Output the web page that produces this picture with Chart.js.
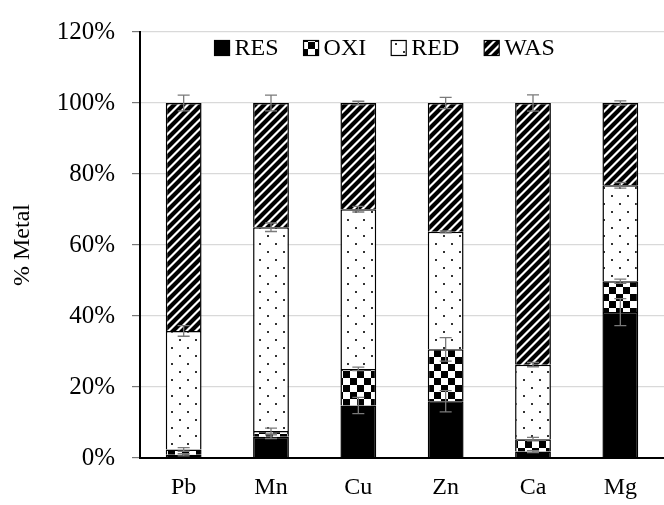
<!DOCTYPE html>
<html>
<head>
<meta charset="utf-8">
<script src="https://cdn.jsdelivr.net/npm/chart.js@4/dist/chart.umd.min.js"></script>
<style>
html,body{margin:0;padding:0;background:#fff;overflow:hidden;}
#wrap{width:664px;height:505px;position:relative;}
</style>
</head>
<body>
<div id="wrap"><canvas id="c" width="664" height="505"></canvas></div>
<script>
const categories = ['Pb', 'Mn', 'Cu', 'Zn', 'Ca', 'Mg'];
const seriesNames = ['RES', 'OXI', 'RED', 'WAS'];
const res = [0.9, 6.0, 14.8, 16.0, 1.8, 41.1];
const oxi = [1.5, 1.6, 10.3, 14.6, 3.5, 8.7];
const red = [33.4, 57.4, 45.0, 33.1, 21.0, 27.0];
const was = [64.2, 35.0, 29.9, 36.3, 73.7, 23.2];
const resErr = [0.3, 0.5, 2.3, 3.0, 0.3, 3.8];
const oxiErr = [0.5, 0.8, 0.5, 3.3, 0.5, 0.6];
const redErr = [1.5, 1.2, 0.8, 0.3, 0.6, 0.8];
const wasErr = [2.2, 2.2, 0.5, 1.6, 2.3, 0.6];
const yTicks = [0, 20, 40, 60, 80, 100, 120];

const FONT = "'Liberation Serif', 'Times New Roman', serif";

function makeTile(w, h, draw) {
  const cv = document.createElement('canvas');
  cv.width = w; cv.height = h;
  const g = cv.getContext('2d');
  g.fillStyle = '#fff'; g.fillRect(0, 0, w, h);
  draw(g);
  return document.getElementById('c').getContext('2d').createPattern(cv, 'repeat');
}
const patRES = '#000000';
const patOXI = makeTile(14, 14, g => {
  g.fillStyle = '#000';
  g.fillRect(0, 0, 7, 7);
  g.fillRect(7, 7, 7, 7);
});
const patRED = makeTile(16, 16, g => {
  g.fillStyle = '#333';
  g.fillRect(3, 3, 2, 2);
  g.fillRect(11, 11, 2, 2);
});
const patWAS = makeTile(9, 9, g => {
  g.strokeStyle = '#000';
  g.lineWidth = 4.2;
  g.beginPath();
  g.moveTo(-2, 11); g.lineTo(11, -2);
  g.moveTo(-11, 11); g.lineTo(2, -2);
  g.moveTo(7, 11); g.lineTo(20, -2);
  g.stroke();
});
const fills = [patRES, patOXI, patRED, patWAS];
const values = [res, oxi, red, was];
const errs = [resErr, oxiErr, redErr, wasErr];

const errorBars = {
  id: 'errorBars',
  afterDatasetsDraw(chart) {
    const ctx = chart.ctx;
    const y = chart.scales.y;
    ctx.save();
    ctx.strokeStyle = '#7a7a7a';
    ctx.lineWidth = 1.3;
    chart.data.datasets.forEach((ds, di) => {
      const meta = chart.getDatasetMeta(di);
      meta.data.forEach((bar, i) => {
        let cum = 0;
        for (let k = 0; k <= di; k++) cum += values[k][i];
        const e = errs[di][i];
        const yt = y.getPixelForValue(cum + e);
        const yb = y.getPixelForValue(cum - e);
        const x = bar.x;
        ctx.beginPath();
        ctx.moveTo(x, yt); ctx.lineTo(x, yb);
        ctx.moveTo(x - 6, yt); ctx.lineTo(x + 6, yt);
        ctx.moveTo(x - 6, yb); ctx.lineTo(x + 6, yb);
        ctx.stroke();
      });
    });
    ctx.restore();
  }
};

const customLegend = {
  id: 'customLegend',
  afterDraw(chart) {
    const ctx = chart.ctx;
    const a = chart.chartArea;
    ctx.save();
    ctx.font = '24px ' + FONT;
    ctx.textBaseline = 'middle';
    ctx.textAlign = 'left';
    const box = 15, gapText = 5, gapItem = 25;
    const widths = seriesNames.map(n => box + gapText + ctx.measureText(n).width);
    const total = widths.reduce((s, w) => s + w, 0) + gapItem * (seriesNames.length - 1);
    const cx = a.left + (a.right - a.left) * 0.467;
    const cy = 48;
    let x = cx - total / 2;
    seriesNames.forEach((n, i) => {
      ctx.fillStyle = fills[i];
      ctx.fillRect(x, cy - box / 2, box, box);
      ctx.strokeStyle = '#000';
      ctx.lineWidth = 1.2;
      ctx.strokeRect(x, cy - box / 2, box, box);
      ctx.fillStyle = '#000';
      ctx.fillText(n, x + box + gapText, cy + 1);
      x += widths[i] + gapItem;
    });
    ctx.restore();
  }
};

new Chart(document.getElementById('c'), {
  type: 'bar',
  data: {
    labels: categories,
    datasets: seriesNames.map((n, i) => ({
      label: n,
      data: values[i],
      backgroundColor: fills[i],
      borderColor: '#000',
      borderWidth: 1.5,
      barPercentage: 0.41,
      categoryPercentage: 1.0
    }))
  },
  options: {
    responsive: false,
    animation: false,
    layout: { padding: { top: 22, right: 0, left: 0, bottom: 0 } },
    plugins: {
      legend: { display: false },
      tooltip: { enabled: false }
    },
    scales: {
      x: {
        stacked: true,
        grid: { display: false, drawTicks: false },
        border: { display: true, color: '#000', width: 2 },
        ticks: { color: '#000', font: { family: FONT, size: 24 }, padding: 15 },
        afterFit: s => { s.height = 47; }
      },
      y: {
        stacked: true,
        min: 0,
        max: 120,
        afterBuildTicks: s => { s.ticks = yTicks.map(v => ({ value: v })); },
        grid: { color: '#d9d9d9', lineWidth: 1.2, drawTicks: true, tickLength: 8, tickColor: '#777' },
        border: { display: true, color: '#000', width: 2 },
        ticks: {
          color: '#000',
          font: { family: FONT, size: 25 },
          padding: 17,
          callback: v => v + '%'
        },
        title: {
          display: true,
          text: '% Metal',
          color: '#000',
          font: { family: FONT, size: 24 },
          padding: { top: 8, bottom: 0 }
        },
        afterFit: s => { s.width = 140; }
      }
    }
  },
  plugins: [errorBars, customLegend]
});
</script>
</body>
</html>
